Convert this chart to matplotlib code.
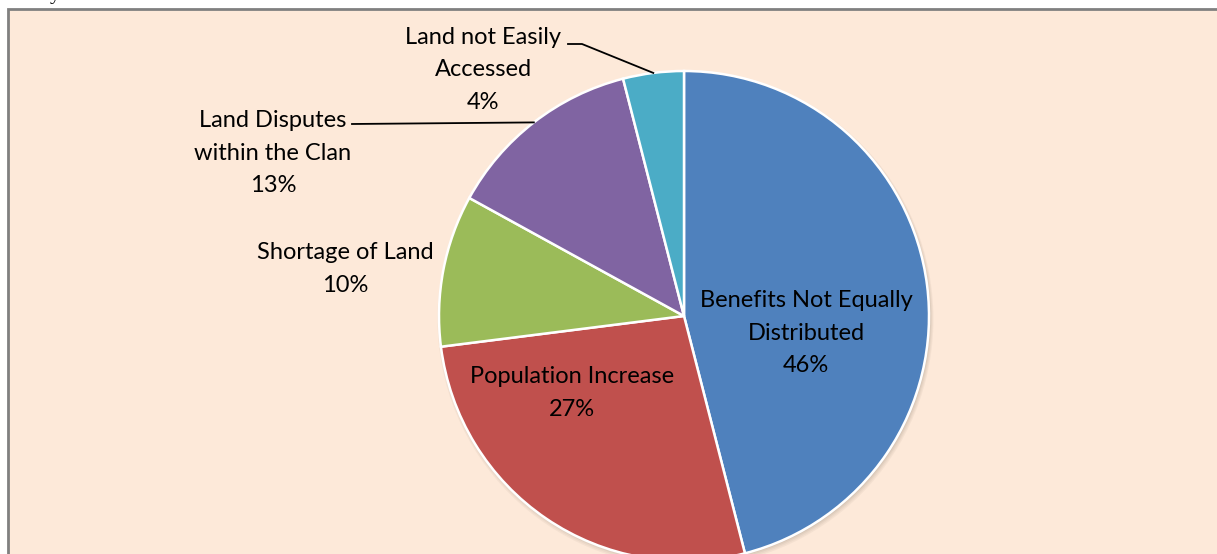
import matplotlib.pyplot as plt
import numpy as np
from matplotlib.patches import Rectangle, Circle

# Problems reported with land distribution (percent of responses)
categories = [
    "Benefits Not Equally\nDistributed",
    "Population Increase",
    "Shortage of Land",
    "Land Disputes\nwithin the Clan",
    "Land not Easily\nAccessed",
]
shares = [46, 27, 10, 13, 4]
colors = ["#4F81BD", "#C0504D", "#9BBB59", "#8064A2", "#4BACC6"]

W, H = 1217, 554
plt.rcParams["font.family"] = ["Lato", "DejaVu Sans"]

fig = plt.figure(figsize=(W / 100, H / 100), dpi=100, facecolor="white")
ax = fig.add_axes([0, 0, 1, 1])

# chart area background with grey frame (runs off the right/bottom edges)
ax.add_patch(Rectangle((8, -10), W + 20, H - 9 + 10, facecolor="#FDE9D9",
                       edgecolor="#808080", lw=2, zorder=0))
# bit of the page text above the chart
ax.text(55, H + 1, "y", family="Liberation Serif", fontsize=15,
        ha="center", va="baseline", color="black", clip_on=False)

cx, cy, r = 684, H - 316, 245

# soft drop shadow under the pie
for i, a in enumerate([0.06, 0.06, 0.07, 0.08]):
    ax.add_patch(Circle((cx + 1.5, cy - 3 + i * 0.5), r + 3 - i, facecolor="#6b5a50",
                        edgecolor="none", alpha=a, zorder=1))

wedges, _ = ax.pie(shares, colors=colors, startangle=90, counterclock=False,
                   center=(cx, cy), radius=r, frame=True,
                   wedgeprops=dict(edgecolor="white", linewidth=1.8, zorder=2))
ax.set_xlim(0, W)
ax.set_ylim(0, H)
ax.set_aspect("equal")
ax.axis("off")

# label centre x and first-line y (from top)
label_pos = [(806, 301), (572, 377), (345, 253), (273, 121), (483, 38)]
line_gap = 32
fs = 17

for w, name, val, (lx, ly) in zip(wedges, categories, shares, label_pos):
    text = f"{name}\n{val}%"
    ax.text(lx, H - ly - text.count("\n") * line_gap / 2, text, ha="center",
            va="center", fontsize=fs, linespacing=1.68, color="black", zorder=4)

# leader lines for the two small top slices
def edge_point(w):
    mid = np.deg2rad((w.theta1 + w.theta2) / 2)
    return cx + r * np.cos(mid), cy + r * np.sin(mid)

ex, ey = edge_point(wedges[4])
ax.plot([568, 582, ex], [H - 44, H - 44, ey], color="black", lw=1.3, zorder=3)
ex, ey = edge_point(wedges[3])
ax.plot([352, ex], [H - 124, ey], color="black", lw=1.3, zorder=3)

fig.savefig("out.png", dpi=100, facecolor="white")
